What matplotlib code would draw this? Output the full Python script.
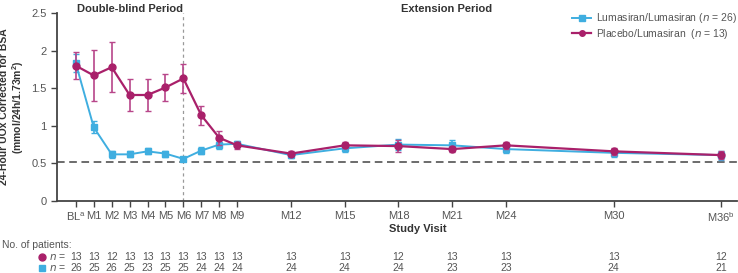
import matplotlib
matplotlib.use("Agg")
import matplotlib.pyplot as plt
import matplotlib.transforms as mtransforms
from matplotlib.lines import Line2D

plt.rcParams['font.family'] = ['Liberation Sans', 'DejaVu Sans']

months = [0, 1, 2, 3, 4, 5, 6, 7, 8, 9, 12, 15, 18, 21, 24, 30, 36]
tick_labels = ['BL$^{\\mathregular{a}}$', 'M1', 'M2', 'M3', 'M4', 'M5', 'M6', 'M7', 'M8', 'M9',
               'M12', 'M15', 'M18', 'M21', 'M24', 'M30', 'M36$^{\\mathregular{b}}$']

luma_mean = [1.83, 0.98, 0.62, 0.62, 0.66, 0.63, 0.56, 0.67, 0.75, 0.76,
             0.61, 0.70, 0.75, 0.74, 0.69, 0.64, 0.61]
luma_err = [0.12, 0.08, 0.05, 0.04, 0.04, 0.04, 0.03, 0.05, 0.06, 0.04,
            0.04, 0.05, 0.07, 0.07, 0.05, 0.05, 0.06]
plac_mean = [1.80, 1.67, 1.78, 1.41, 1.41, 1.51, 1.63, 1.14, 0.84, 0.74,
             0.63, 0.74, 0.73, 0.69, 0.74, 0.66, 0.61]
plac_err = [0.18, 0.34, 0.33, 0.21, 0.21, 0.18, 0.19, 0.13, 0.09, 0.05,
            0.03, 0.04, 0.08, 0.04, 0.05, 0.05, 0.05]

n_plac = [13, 13, 12, 13, 13, 13, 13, 13, 13, 13, 13, 13, 12, 13, 13, 13, 12]
n_luma = [26, 25, 26, 25, 23, 25, 25, 24, 24, 24, 24, 24, 24, 23, 23, 24, 21]

ref_line = 0.52

blue = '#3FAEE0'
magenta = '#A9206A'
gray = '#555555'

fig = plt.figure(figsize=(7.38, 2.73), dpi=100)
ax = fig.add_axes([0.077, 0.264, 0.922, 0.688])

ax.axhline(ref_line, color='#444444', linestyle=(0, (5, 3)), linewidth=1.1, zorder=1)
ax.axvline(6, color='#999999', linestyle=(0, (2.5, 2.5)), linewidth=0.9, zorder=1)

ax.errorbar(months, luma_mean, yerr=luma_err, color=blue, marker='s', markersize=5,
            linewidth=1.4, elinewidth=1.2, capsize=2.5, ecolor=blue, zorder=3)
ax.errorbar(months, plac_mean, yerr=plac_err, color=magenta, marker='o', markersize=5,
            linewidth=1.6, elinewidth=1.2, capsize=2.5, ecolor='#B8468A', zorder=4)

ax.set_xlim(-1.06, 36.9)
ax.set_ylim(0, 2.5)
ax.set_yticks([0, 0.5, 1, 1.5, 2, 2.5])
ax.set_yticklabels(['0', '0.5', '1', '1.5', '2', '2.5'])
ax.set_xticks(months)
ax.set_xticklabels(tick_labels)
ax.tick_params(axis='both', colors='#444444', labelcolor=gray, labelsize=8, length=4, width=1)
ax.tick_params(axis='x', pad=3)

for side in ['top', 'right']:
    ax.spines[side].set_visible(False)
for side in ['left', 'bottom']:
    ax.spines[side].set_color('#444444')
    ax.spines[side].set_linewidth(1.3)

ax.set_ylabel('24-Hour UOx Corrected for BSA\n(mmol/24h/1.73m$^{\\mathregular{2}}$)',
              fontsize=7.5, fontweight='bold', color='#333333', linespacing=1.1)
ax.yaxis.set_label_coords(-0.046, 0.5)
ax.set_xlabel('Study Visit', fontsize=8, fontweight='bold', color='#333333')
ax.xaxis.set_label_coords(0.53, -0.125)

ax.text(3.0, 2.56, 'Double-blind Period', ha='center', va='center', fontsize=8,
        fontweight='bold', color='#333333')
ax.text(20.7, 2.56, 'Extension Period', ha='center', va='center', fontsize=8,
        fontweight='bold', color='#333333')

handles = [Line2D([], [], color=blue, marker='s', markersize=4, linewidth=1.4),
           Line2D([], [], color=magenta, marker='o', markersize=4, linewidth=1.6)]
labels = ['Lumasiran/Lumasiran ($\\mathit{n}$ = 26)', 'Placebo/Lumasiran  ($\\mathit{n}$ = 13)']
leg = ax.legend(handles, labels, loc='upper right', bbox_to_anchor=(1.003, 1.02), frameon=False,
                fontsize=7.5, handlelength=1.8, handletextpad=0.5, labelspacing=0.12,
                borderaxespad=0.0, borderpad=0.2)
for t in leg.get_texts():
    t.set_color(gray)

# patient counts table
trans = mtransforms.blended_transform_factory(ax.transData, fig.transFigure)
fig.text(2 / 738, 1 - 245 / 273, 'No. of patients:', fontsize=7.5, color=gray, va='center')
row_y = [1 - 257 / 273, 1 - 268 / 273]
fig.lines.append(Line2D([42 / 738], [row_y[0]], marker='o', markersize=5, color=magenta,
                        transform=fig.transFigure, figure=fig))
fig.lines.append(Line2D([42 / 738], [row_y[1]], marker='s', markersize=4.5, color=blue,
                        transform=fig.transFigure, figure=fig))
for y in row_y:
    fig.text(49 / 738, y, '$\\mathit{n}$ =', fontsize=7.5, color=gray, va='center')
for m, a, b in zip(months, n_plac, n_luma):
    ax.text(m, row_y[0], str(a), transform=trans, ha='center', va='center', fontsize=7.5, color=gray)
    ax.text(m, row_y[1], str(b), transform=trans, ha='center', va='center', fontsize=7.5, color=gray)

fig.savefig('out.png', dpi=100)
